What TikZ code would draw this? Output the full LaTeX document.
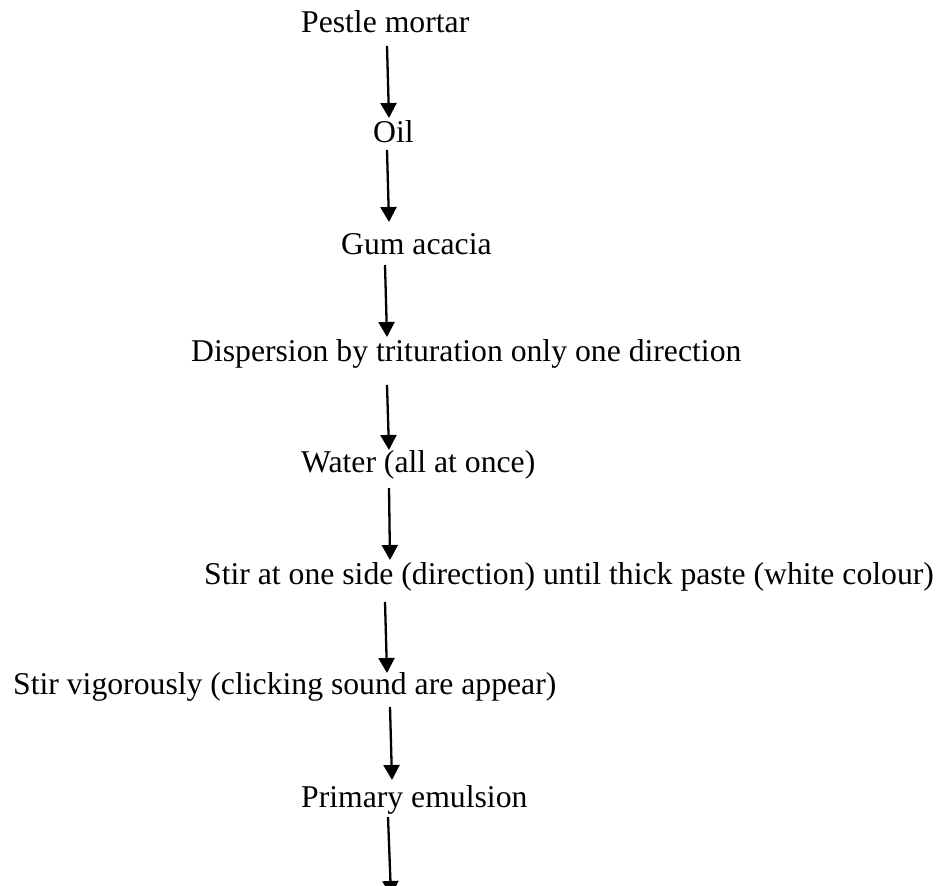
\documentclass[tikz,border=0pt]{standalone}
\usepackage{fontspec}
\setmainfont{Liberation Serif}
\usetikzlibrary{arrows.meta}

\begin{document}
\begin{tikzpicture}[x=0.5pt, y=-0.5pt, arrows={-Triangle[length=7.5pt,width=8pt]}, line width=1.15pt,
	lbl/.style={anchor=base west, inner sep=0pt, font=\fontsize{15.85}{19}\selectfont}]
	\useasboundingbox (0,0) rectangle (942,886);

	\node [lbl] (PM) at (300,33) {Pestle mortar};
	\node [lbl] (Oil) at (372,143) {Oil};
	\node [lbl] (Gum) at (340,255) {Gum acacia};
	\node [lbl] (Disp) at (190,362) {Dispersion by trituration only one direction};
	\node [lbl] (Water) at (300,473) {Water (all at once)};
	\node [lbl] (StirA) at (203,585) {Stir at one side (direction) until thick paste (white colour)};
	\node [lbl] (StirB) at (12,695) {Stir vigorously (clicking sound are appear)};
	\node [lbl] (Prim) at (300,807) {Primary emulsion};
	\coordinate (End) at (391,896);

	\draw ([shift={(87,13)}]PM.base west) to ([shift={(17,-25)}]Oil.base west);
	\draw ([shift={(15,7)}]Oil.base west) to ([shift={(49,-33)}]Gum.base west);
	\draw ([shift={(45,10)}]Gum.base west) to ([shift={(197,-25)}]Disp.base west);
	\draw ([shift={(197,23)}]Disp.base west) to ([shift={(89,-23)}]Water.base west);
	\draw ([shift={(89,15)}]Water.base west) to ([shift={(187,-25)}]StirA.base west);
	\draw ([shift={(182,17)}]StirA.base west) to ([shift={(375,-22)}]StirB.base west);
	\draw ([shift={(378,12)}]StirB.base west) to ([shift={(92,-27)}]Prim.base west);
	\draw ([shift={(88,10)}]Prim.base west) to (End);
\end{tikzpicture}
\end{document}
